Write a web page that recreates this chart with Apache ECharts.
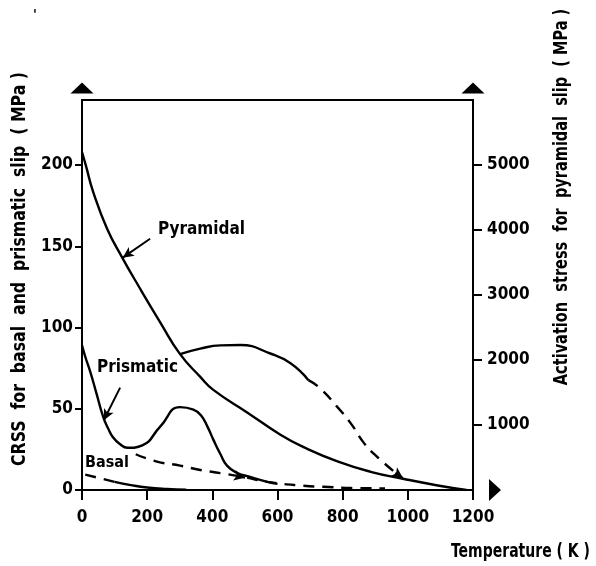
<!DOCTYPE html>
<html>
<head>
<meta charset="utf-8">
<script src="https://cdn.jsdelivr.net/npm/echarts@6/dist/echarts.min.js"></script>
<style>
html,body{margin:0;padding:0;background:#fff;}
#chart{width:596px;height:566px;}
</style>
</head>
<body>
<div id="chart"></div>
<script>
// ---- data ----
// pyramidal activation stress, right axis (MPa)
const pyramidal = [[0,5200],[12,4990],[34,4590],[77,4020],[123,3580],[178,3100],[240,2580],[301,2090],[363,1740],[403,1540],[508,1190],[609,850],[680,660],[784,440],[886,280],[988,170],[1092,70],[1180,0]];
// upper branch (right axis): solid part and dashed continuation
const upperSolid = [[301,2090],[363,2175],[425,2225],[486,2230],[578,2100],[640,1950],[695,1690]];
const upperDashed = [[695,1690],[732,1560],[784,1275],[825,1025],[865,725],[908,500],[978,200]];
// prismatic CRSS, left axis (MPa)
const prismaticSolid = [[0,89],[10,82],[25,73],[45,59],[65,45],[80,38],[95,32.5],[115,28.5],[140,26],[185,27.5],[240,39],[300,51],[342,49.5],[365,46],[385,39],[403,31],[425,22],[445,15],[477,10.4],[508,8.5],[569,5],[600,3.8]];
const prismaticDashed = [[165,22],[230,17.5],[301,15],[363,12.3],[425,10.4],[496,8],[569,5],[680,2.6],[741,2],[825,1.2],[930,1]];
// basal CRSS, left axis (MPa)
const basalDashed = [[10,9.5],[50,7.5],[100,5]];
const basalSolid = [[100,5],[150,3],[200,1.5],[260,0.6],[320,0.2]];

const FONT = 'DejaVu Sans Condensed';
const black = '#000';
const plain = v => String(v);

const chart = echarts.init(document.getElementById('chart'), null, {renderer:'canvas'});

function arrowLine(from, to){
  return {
    silent:true, animation:false,
    symbol:['none','arrow'], symbolSize:[8,11],
    lineStyle:{color:black, width:2, type:'solid'},
    label:{show:false},
    data:[[{coord:from},{coord:to}]]
  };
}
function line(name, axis, data, dashed, extra){
  return Object.assign({
    name:name, type:'line', yAxisIndex:axis, data:data, smooth:0.5, symbol:'none',
    lineStyle:{color:black, width:2.4, type: dashed ? [11,8] : 'solid'}
  }, extra || {});
}

const option = {
  backgroundColor:'#fff',
  animation:false,
  grid:{left:82, right:123, top:100, bottom:76, show:true, borderColor:black, borderWidth:2, backgroundColor:'transparent'},
  xAxis:{
    type:'value', min:0, max:1200, interval:200,
    axisLine:{show:true, lineStyle:{color:black, width:2}, symbol:['none','triangle'], symbolSize:[22,12], symbolOffset:[0,22]},
    axisTick:{show:true, length:10, lineStyle:{color:black, width:2}},
    axisLabel:{color:black, fontFamily:FONT, fontWeight:'bold', fontSize:17, margin:19, formatter:plain},
    splitLine:{show:false}
  },
  yAxis:[{
    type:'value', min:0, max:240, interval:50,
    axisLine:{show:true, lineStyle:{color:black, width:2}, symbol:['none','triangle'], symbolSize:[23,11], symbolOffset:[0,12]},
    axisTick:{show:true, length:7, lineStyle:{color:black, width:2}},
    axisLabel:{color:black, fontFamily:FONT, fontWeight:'bold', fontSize:17, margin:9, showMaxLabel:false, formatter:plain},
    splitLine:{show:false}
  },{
    type:'value', min:0, max:6000, interval:1000, position:'right',
    axisLine:{show:true, lineStyle:{color:black, width:2}, symbol:['none','triangle'], symbolSize:[23,11], symbolOffset:[0,12]},
    axisTick:{show:true, length:9, lineStyle:{color:black, width:2}},
    axisLabel:{color:black, fontFamily:FONT, fontWeight:'bold', fontSize:17, margin:14, showMaxLabel:false, showMinLabel:false, formatter:plain},
    splitLine:{show:false}
  }],
  series:[
    line('Pyramidal', 1, pyramidal, false, {markLine:arrowLine([209,3865],[125,3575])}),
    line('Pyramidal upper', 1, upperSolid, false),
    line('Pyramidal upper (dashed)', 1, upperDashed, true, {markLine:arrowLine([962,265],[985,185])}),
    line('Prismatic', 0, prismaticSolid, false, {markLine:arrowLine([117,63],[67,43])}),
    line('Prismatic (dashed)', 0, prismaticDashed, true, {markLine:arrowLine([478,8.6],[500,7.6])}),
    line('Basal (dashed)', 0, basalDashed, true),
    line('Basal', 0, basalSolid, false)
  ],
  graphic:[
    {type:'text', x:20, y:269, rotation:Math.PI/2, scaleX:0.92, silent:true,
     style:{text:'CRSS  for  basal  and  prismatic  slip  ( MPa )', fontFamily:FONT, fontWeight:'bold', fontSize:19, fill:black, align:'center', verticalAlign:'middle', textAlign:'center', textVerticalAlign:'middle'}},
    {type:'text', x:562, y:197, rotation:Math.PI/2, scaleX:0.85, silent:true,
     style:{text:'Activation  stress  for  pyramidal  slip  ( MPa )', fontFamily:FONT, fontWeight:'bold', fontSize:19, fill:black, align:'center', verticalAlign:'middle', textAlign:'center', textVerticalAlign:'middle'}},
    {type:'text', x:590, y:552, scaleX:0.82, silent:true,
     style:{text:'Temperature ( K )', fontFamily:FONT, fontWeight:'bold', fontSize:19, fill:black, align:'right', verticalAlign:'middle', textAlign:'right', textVerticalAlign:'middle'}},
    {type:'text', x:158, y:230, silent:true,
     style:{text:'Pyramidal', fontFamily:FONT, fontWeight:'bold', fontSize:17, fill:black, align:'left', verticalAlign:'middle', textAlign:'left', textVerticalAlign:'middle'}},
    {type:'text', x:97, y:368, silent:true,
     style:{text:'Prismatic', fontFamily:FONT, fontWeight:'bold', fontSize:17, fill:black, align:'left', verticalAlign:'middle', textAlign:'left', textVerticalAlign:'middle'}},
    {type:'text', x:85, y:463, silent:true,
     style:{text:'Basal', fontFamily:FONT, fontWeight:'bold', fontSize:16, fill:black, align:'left', verticalAlign:'middle', textAlign:'left', textVerticalAlign:'middle'}},
    {type:'text', x:35, y:15, silent:true,
     style:{text:"'", fontFamily:FONT, fontWeight:'bold', fontSize:14, fill:black, align:'center', verticalAlign:'middle', textAlign:'center', textVerticalAlign:'middle'}}
  ]
};
chart.setOption(option);
</script>
</body>
</html>
